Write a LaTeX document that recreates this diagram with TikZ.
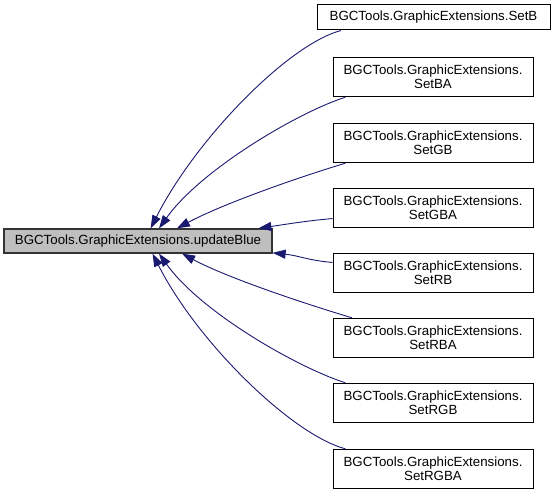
\documentclass[tikz,border=0pt]{standalone}
\usepackage{fontspec}
\setmainfont{Liberation Sans}
\usetikzlibrary{arrows.meta}
\definecolor{edgeblue}{HTML}{191970}
\definecolor{maingray}{HTML}{BFBFBF}
\begin{document}
\begin{tikzpicture}[x=1pt, y=-1pt, >={Triangle[length=13pt, width=9pt]},
    fn/.style={draw=black, line width=1pt, fill=white, inner sep=0pt,
        font=\fontsize{13.3}{14.3}\selectfont, align=center},
    callbox/.style={fn, minimum width=200pt, minimum height=39.5pt},
    caller/.style={->, edgeblue, line width=0.9pt}]
    % Khung của hình
    \useasboundingbox (0, 0) rectangle (556, 495);

    % 1. Hàm chính (nền xám)
    \node[fn, fill=maingray, draw=black!80, line width=1.3pt, minimum width=268pt, minimum height=24pt] (updateblue) at (138, 241) {BGCTools.GraphicExtensions.updateBlue};

    % 2. Các hàm gọi tới
    \node[fn, minimum width=233pt, minimum height=25pt] (setb) at (433.5, 17.5) {BGCTools.GraphicExtensions.SetB};
    \node[callbox] (setba)   at (433, 77)  {BGCTools.GraphicExtensions.\\SetBA};
    \node[callbox] (setgb)   at (433, 143) {BGCTools.GraphicExtensions.\\SetGB};
    \node[callbox] (setgba)  at (433, 208) {BGCTools.GraphicExtensions.\\SetGBA};
    \node[callbox] (setrb)   at (433, 273) {BGCTools.GraphicExtensions.\\SetRB};
    \node[callbox] (setrba)  at (433, 338) {BGCTools.GraphicExtensions.\\SetRBA};
    \node[callbox] (setrgb)  at (433, 403) {BGCTools.GraphicExtensions.\\SetRGB};
    \node[callbox] (setrgba) at (433, 469) {BGCTools.GraphicExtensions.\\SetRGBA};

    % 3. Các cung (mũi tên về hàm chính)
    \draw[caller] (setb.188)   .. controls +(-53, 14)  and +(45, -89) .. (updateblue.45);
    \draw[caller] (setba.193)  .. controls +(-47, 15)  and +(42, -59) .. (updateblue.31);
    \draw[caller] (setgb.193)  .. controls +(-50, 15)  and +(45, -24) .. (updateblue.18);
    \draw[caller] (setgba.186) .. controls +(-24, 2)   and +(27, -4)  .. (updateblue.6);
    \draw[caller] (setrb.174)  .. controls +(-24, -2)  and +(27, 3)   .. (updateblue.-5.6);
    \draw[caller] (setrba.166) .. controls +(-50, -15) and +(45, 24)  .. (updateblue.-16);
    \draw[caller] (setrgb.167) .. controls +(-47, -15) and +(42, 59)  .. (updateblue.-31);
    \draw[caller] (setrgba.167) .. controls +(-53, -14) and +(45, 89) .. (updateblue.-41);

\end{tikzpicture}
\end{document}
